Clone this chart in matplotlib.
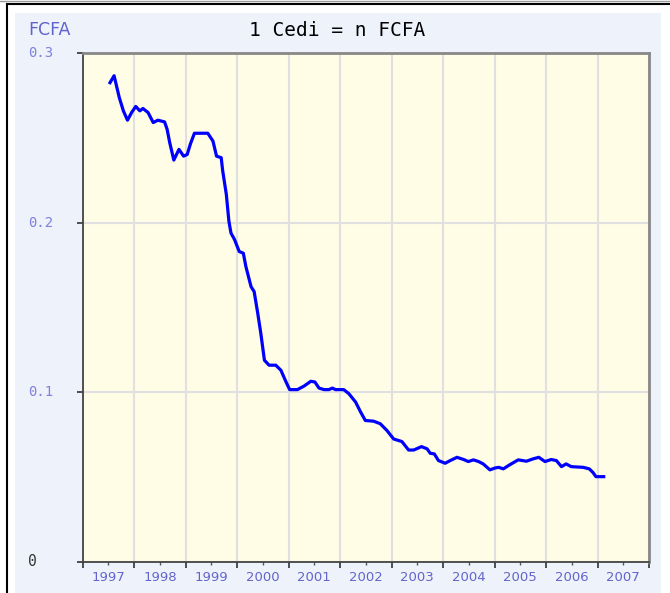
"""
1 Cedi = n FCFA, 1997-2007 exchange rate chart.
"""
import matplotlib.pyplot as plt
from matplotlib.patches import Rectangle
from matplotlib.lines import Line2D
from matplotlib.ticker import MultipleLocator, NullFormatter

# data (decimal year, rate)
years = [1997.53, 1997.61, 1997.71, 1997.79, 1997.87, 1997.95, 1998.03, 1998.11,
         1998.17, 1998.27, 1998.37, 1998.46, 1998.59, 1998.64, 1998.69, 1998.77,
         1998.87, 1998.96, 1999.03, 1999.09, 1999.17, 1999.43, 1999.53, 1999.60,
         1999.69, 1999.72, 1999.79, 1999.84, 1999.88, 1999.95, 2000.04, 2000.12,
         2000.17, 2000.27, 2000.33, 2000.40, 2000.46, 2000.53, 2000.62, 2000.75,
         2000.85, 2000.95, 2001.02, 2001.17, 2001.30, 2001.43, 2001.51, 2001.59,
         2001.69, 2001.78, 2001.85, 2001.91, 2002.07, 2002.17, 2002.30, 2002.40,
         2002.49, 2002.65, 2002.78, 2002.91, 2003.04, 2003.20, 2003.33, 2003.43,
         2003.58, 2003.69, 2003.75, 2003.83, 2003.91, 2004.04, 2004.14, 2004.27,
         2004.40, 2004.49, 2004.59, 2004.69, 2004.78, 2004.91, 2005.01, 2005.08,
         2005.17, 2005.30, 2005.46, 2005.62, 2005.75, 2005.86, 2005.98, 2006.10,
         2006.20, 2006.30, 2006.39, 2006.49, 2006.72, 2006.84, 2006.91, 2006.97,
         2007.12]
rates = [0.2825, 0.2866, 0.2738, 0.2659, 0.2604, 0.2649, 0.2685, 0.2659,
         0.2673, 0.2649, 0.2590, 0.2604, 0.2594, 0.2550, 0.2472, 0.2369,
         0.2432, 0.2392, 0.2402, 0.2462, 0.2527, 0.2527, 0.2481, 0.2392,
         0.2383, 0.2304, 0.2166, 0.2008, 0.1939, 0.1900, 0.1830, 0.1820,
         0.1741, 0.1623, 0.1594, 0.1466, 0.1347, 0.1189, 0.1160, 0.1160,
         0.1130, 0.1061, 0.1016, 0.1016, 0.1037, 0.1065, 0.1061, 0.1025,
         0.1016, 0.1016, 0.1025, 0.1016, 0.1016, 0.0992, 0.0943, 0.0883,
         0.0834, 0.0830, 0.0815, 0.0775, 0.0725, 0.0710, 0.0660, 0.0660,
         0.0680, 0.0667, 0.0641, 0.0637, 0.0598, 0.0582, 0.0598, 0.0617,
         0.0604, 0.0592, 0.0602, 0.0592, 0.0578, 0.0543, 0.0554, 0.0558,
         0.0549, 0.0574, 0.0602, 0.0594, 0.0608, 0.0617, 0.0592, 0.0604,
         0.0598, 0.0562, 0.0578, 0.0562, 0.0558, 0.0549, 0.0528, 0.0503,
         0.0503]
year_labels = [str(y) for y in range(1997, 2008)]
y_ticks = [0.1, 0.2, 0.3]

W, H = 670, 593
fig = plt.figure(figsize=(W / 100, H / 100), dpi=100)
fig.patch.set_facecolor('white')


def px(x, y):
    return x / W, 1 - y / H


# frame + blue panel
fig.patches.append(Rectangle(px(15, 593), 646 / W, 580 / H, transform=fig.transFigure,
                             facecolor='#edf2fb', edgecolor='none', zorder=-5))
fig.lines.append(Line2D([7 / W, 7 / W], [0, 1 - 4 / H], transform=fig.transFigure,
                        color='black', lw=1.5))
fig.lines.append(Line2D([7 / W, 1], [1 - 4 / H, 1 - 4 / H], transform=fig.transFigure,
                        color='black', lw=1.5))
fig.lines.append(Line2D([0, 1], [1 - 0.5 / H, 1 - 0.5 / H], transform=fig.transFigure,
                        color='#999999', lw=1))

ax = fig.add_axes([82.7 / W, 1 - 562 / H, (649 - 82.7) / W, (562 - 53) / H])
ax.set_zorder(2)
ax.set_facecolor('#fffde6')
ax.plot(years, rates, color='#0000ff', lw=2.3, zorder=3)

ax.set_xlim(1997, 2008)
ax.set_ylim(0, 0.3)
ax.xaxis.set_major_locator(MultipleLocator(1))
ax.xaxis.set_minor_locator(MultipleLocator(0.5))
ax.xaxis.set_major_formatter(NullFormatter())
ax.set_yticks([0, 0.1, 0.2, 0.3])
ax.set_yticklabels([])
ax.grid(True, which='major', color='#e0e0e0', lw=1.5, zorder=0)
ax.tick_params(axis='x', which='major', length=4, width=1.2, color='#333333')
ax.tick_params(axis='x', which='minor', length=2, width=1, color='#555555')
ax.tick_params(axis='y', which='major', length=4, width=1.2, color='#333333')
for s in ['left', 'bottom']:
    ax.spines[s].set_color('#444444')
    ax.spines[s].set_linewidth(1.3)
for s in ['top', 'right']:
    ax.spines[s].set_color('#888888')
    ax.spines[s].set_linewidth(2)

# year labels centred in each year interval
for i, lab in enumerate(year_labels):
    ax.text(1997.5 + i, -0.0055, lab, ha='center', va='top', fontsize=9.5,
            color='#6464cc', transform=ax.transData, clip_on=False)

# y labels at the left edge of the panel
for v in y_ticks:
    fig.text(28 / W, ax.transData.transform((0, v))[1] / H, f"{v:.1f}",
             ha='left', va='center', family='DejaVu Sans Mono', fontsize=10,
             color='#8080dd')
fig.text(28 / W, 1 - 562 / H, "0", ha='left', va='center', family='DejaVu Sans Mono',
         fontsize=10.5, color='#333333')

fig.text(28 / W, 1 - 30 / H, "FCFA", ha='left', va='center', fontsize=12.5,
         color='#6262cc')
fig.text(337 / W, 1 - 30 / H, "1 Cedi = n FCFA", ha='center', va='center',
         family='DejaVu Sans Mono', fontsize=14, color='black')

fig.savefig('out.png', dpi=100, facecolor=fig.get_facecolor())
